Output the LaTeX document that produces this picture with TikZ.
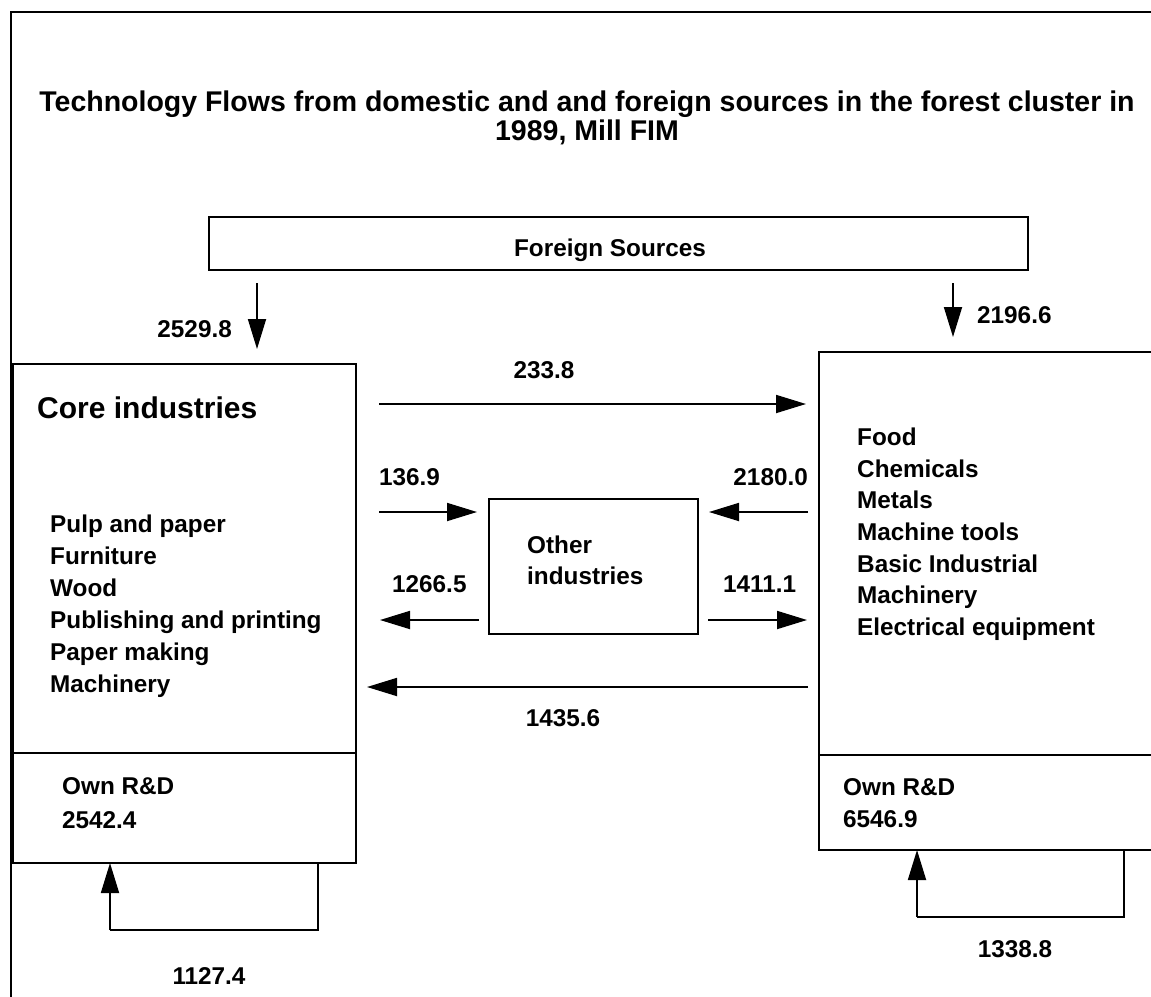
\documentclass[tikz,border=0pt]{standalone}
\usepackage{fontspec}
\setmainfont{Liberation Sans}
\usetikzlibrary{arrows.meta}
\begin{document}
\begin{tikzpicture}[x=1pt,y=-1pt,
  font=\bfseries\fontsize{24.3}{24.3}\selectfont,
  boxline/.style={draw=black,line width=2.2pt},
  flow/.style={line width=1.8pt,-{Triangle[length=30pt,width=18pt]}},
  loopline/.style={line width=1.8pt},
  txt/.style={anchor=base west,inner sep=0pt},
  ctxt/.style={anchor=base,inner sep=0pt},
  titletxt/.style={anchor=base,inner sep=0pt,font=\bfseries\fontsize{28.5}{30}\selectfont}]
\useasboundingbox (0,0) rectangle (1151,996);
\clip (0,0) rectangle (1151,996);
\fill[white] (0,0) rectangle (1151,996);
% outer frame
\draw[line width=1.4pt] (11,1000) -- (11,12) -- (1160,12);
% title
\node[titletxt] (title1) at (587,111) {Technology Flows from domestic and and foreign sources in the forest cluster in};
\node[titletxt] (title2) at (587,140) {1989, Mill FIM};
% foreign sources
\draw[boxline] (209,217) rectangle (1028,270);
\node[ctxt] (foreign) at (610,256) {Foreign Sources};
% boxes
\draw[boxline] (13,364) rectangle (356,863);
\draw[boxline] (13,753) -- (356,753);
\draw[boxline] (819,352) rectangle (1170,850);
\draw[boxline] (819,755) -- (1170,755);
\draw[boxline] (489,499) rectangle (698,634);
% box labels
\node[txt,font=\bfseries\fontsize{30}{30}\selectfont] (core) at (37,418) {Core industries};
\node[txt] (l1) at (50,532) {Pulp and paper};
\node[txt] (l2) at (50,564) {Furniture};
\node[txt] (l3) at (50,596) {Wood};
\node[txt] (l4) at (50,628) {Publishing and printing};
\node[txt] (l5) at (50,660) {Paper making};
\node[txt] (l6) at (50,692) {Machinery};
\node[txt] (r1) at (857,445) {Food};
\node[txt] (r2) at (857,477) {Chemicals};
\node[txt] (r3) at (857,508) {Metals};
\node[txt] (r4) at (857,540) {Machine tools};
\node[txt] (r5) at (857,572) {Basic Industrial};
\node[txt] (r6) at (857,603) {Machinery};
\node[txt] (r7) at (857,635) {Electrical equipment};
\node[txt] (oth1) at (527,553) {Other};
\node[txt] (oth2) at (527,584) {industries};
\node[txt] (rdl1) at (62,794) {Own R\&D};
\node[txt] (rdl2) at (62,828) {2542.4};
\node[txt] (rdr1) at (843,795) {Own R\&D};
\node[txt] (rdr2) at (843,827) {6546.9};
% flow coordinates
\coordinate (fa1) at (257,283); \coordinate (fa2) at (257,349);
\coordinate (fb1) at (953,283); \coordinate (fb2) at (953,337);
\coordinate (a1) at (379,404); \coordinate (a2) at (806,404);
\coordinate (b1) at (379,512); \coordinate (b2) at (477,512);
\coordinate (c1) at (808,512); \coordinate (c2) at (709,512);
\coordinate (d1) at (479,620); \coordinate (d2) at (380,620);
\coordinate (e1) at (708,620); \coordinate (e2) at (807,620);
\coordinate (g1) at (808,687); \coordinate (g2) at (367,687);
\draw[flow] (fa1) -- (fa2);
\draw[flow] (fb1) -- (fb2);
\draw[flow] (a1) -- (a2);
\draw[flow] (b1) -- (b2);
\draw[flow] (c1) -- (c2);
\draw[flow] (d1) -- (d2);
\draw[flow] (e1) -- (e2);
\draw[flow] (g1) -- (g2);
% loops
\coordinate (la) at (318,863); \coordinate (lb) at (318,930);
\coordinate (lc) at (110,930); \coordinate (ld) at (110,863);
\draw[loopline] (la) -- (lb) -- (lc);
\draw[flow] (lc) -- (ld);
\coordinate (ra) at (1124,850); \coordinate (rb) at (1124,917);
\coordinate (rc) at (917,917); \coordinate (rd) at (917,850);
\draw[loopline] (ra) -- (rb) -- (rc);
\draw[flow] (rc) -- (rd);
% flow labels
\node[anchor=base east,inner sep=0pt] (n1) at (232,337) {2529.8};
\node[txt] (n2) at (977,323) {2196.6};
\node[ctxt] (n3) at (544,378) {233.8};
\node[txt] (n4) at (379,485) {136.9};
\node[anchor=base east,inner sep=0pt] (n5) at (808,485) {2180.0};
\node[txt] (n6) at (392,592) {1266.5};
\node[txt] (n7) at (723,592) {1411.1};
\node[ctxt] (n8) at (563,726) {1435.6};
\node[ctxt] (n9) at (209,984) {1127.4};
\node[ctxt] (n10) at (1015,957) {1338.8};
\end{tikzpicture}
\end{document}
